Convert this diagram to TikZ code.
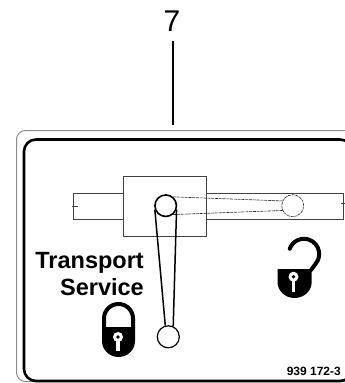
\documentclass[tikz,border=0pt]{standalone}
\usepackage{fontspec}
\setmainfont{Liberation Sans}
\tikzset{
  px/.style={x=1pt,y=-1pt},
  thinline/.style={draw=black!75,line width=0.8pt},
  dashline/.style={draw=black!85,line width=0.6pt,dash pattern=on 3pt off 0.8pt},
  lockfill/.style={fill=black,draw=none},
  labeltext/.style={font=\bfseries\fontsize{23.5}{26}\selectfont,anchor=base east,inner sep=0pt},
}
\begin{document}
\begin{tikzpicture}[px]
\useasboundingbox (0,0) rectangle (345,383);
\clip (0,0) rectangle (345,383);
% leader
\node[font=\fontsize{30}{32}\selectfont,anchor=base,inner sep=0pt] (seven) at (172,31) {7};
\coordinate (ltop) at (173,41);
\coordinate (lbot) at (173,125);
\draw[line width=1.5pt] (ltop) -- (lbot);
% frames
\draw[draw=black!45,line width=1pt,rounded corners=9pt] (360,130.5) -- (16.5,130.5) -- (16.5,381.5) -- (360,381.5);
\draw[line width=2.6pt,rounded corners=12pt] (24,139.5) rectangle (352,381);
% slide
\draw[thinline] (123.5,193) -- (73,193) -- (73,219.3) -- (123.5,219.3);
\draw[thinline] (206,193) -- (343.5,193) -- (343.5,219.3) -- (206,219.3);
\draw[thinline] (71.5,206) -- (78,206);
\draw[thinline] (341,203.5) -- (345,203.5);
\draw[thinline] (123.5,176.3) rectangle (206.5,236.3);
% ghost lever
\node[circle,dashline,minimum size=22pt,inner sep=0pt] (ghost) at (292.7,205.7) {};
\node[circle,draw,line width=1.6pt,minimum size=21.5pt,inner sep=0pt] (top) at (165.7,205.7) {};
\node[circle,draw,line width=1.2pt,minimum size=22pt,inner sep=0pt] (bot) at (168.3,336.8) {};
\draw[dashline] (top.50) -- (ghost.155);
\draw[dashline] (top.-50) -- (ghost.205);
% lever
\draw[line width=1.5pt] (top.200) -- (bot.105);
\draw[line width=1.5pt] (top.-20) -- (bot.65);
% labels
\node[labeltext] (tr) at (144,268) {Transport};
\node[labeltext] (sv) at (144,295) {Service};
\node[font=\bfseries\fontsize{12}{14}\selectfont,anchor=base east,inner sep=0pt] (num) at (341,375) {939 172-3};
% closed lock
\draw[line width=4pt] (104,328) -- (104,318.5) arc[start angle=180,end angle=360,radius=14.5] -- (133,328);
\fill[lockfill] (102,327) -- (135,327) -- (135,341) arc[start angle=0,end angle=180,x radius=16.5,y radius=16] -- cycle;
\fill[white] (118,337) circle (5);
\fill[white] (116.2,338) rectangle (119.8,350.5);
\fill[black] (118,337) circle (1.8);
% open lock
\draw[line width=4pt,line cap=round] (289.7,248.8) arc[start angle=200,end angle=400,radius=15.2] -- (311,270);
\fill[lockfill] (277.5,269) -- (311.7,269) -- (311.7,282) arc[start angle=0,end angle=180,x radius=17.1,y radius=16] -- cycle;
\fill[white] (293.5,276.7) circle (5);
\fill[white] (291.7,278) rectangle (295.3,291.7);
\fill[black] (293.5,276.7) circle (1.8);
\end{tikzpicture}
\end{document}
